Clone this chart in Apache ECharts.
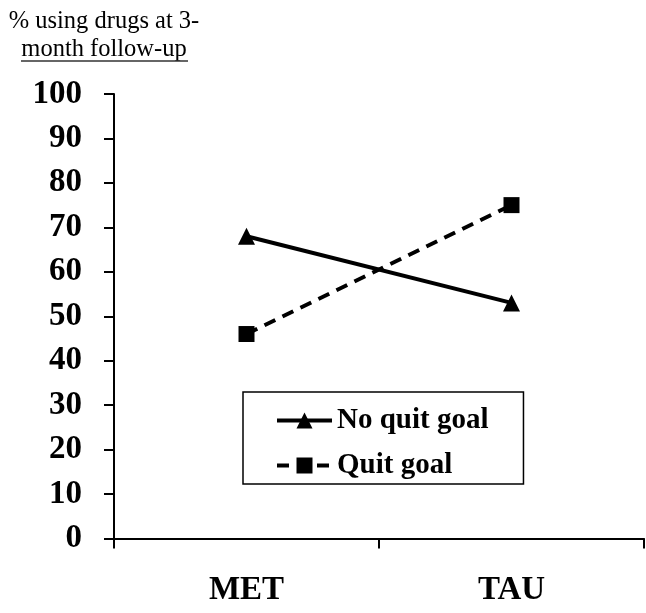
<!DOCTYPE html>
<html>
<head>
<meta charset="utf-8">
<script src="https://cdn.jsdelivr.net/npm/echarts@6/dist/echarts.min.js"></script>
<style>html,body{margin:0;padding:0;background:#fff}#c{width:646px;height:613px}</style>
</head>
<body>
<div id="c"></div>
<script>
const categories = ['MET', 'TAU'];
const noQuitGoal = [68, 53];
const quitGoal = [46, 75];
const yTicks = [0, 10, 20, 30, 40, 50, 60, 70, 80, 90, 100];
const seriesNames = ['No quit goal', 'Quit goal'];
const titleLines = ['% using drugs at 3-', 'month follow-up'];

const FONT = '"Liberation Serif", "Times New Roman", serif';
const chart = echarts.init(document.getElementById('c'), null, {renderer: 'canvas'});
chart.setOption({
  animation: false,
  backgroundColor: '#fff',
  grid: {left: 114, right: 2, top: 94, bottom: 74.5, containLabel: false},
  graphic: [
    {type: 'text', x: 104, y: 9, style: {text: titleLines[0], font: '24.5px ' + FONT, fill: '#000', textAlign: 'center'}},
    {type: 'text', x: 104, y: 37, style: {text: titleLines[1], font: '24.5px ' + FONT, fill: '#000', textAlign: 'center'}},
    {type: 'line', shape: {x1: 21, y1: 61, x2: 188, y2: 61}, style: {stroke: '#333', lineWidth: 1.5}}
  ],
  legend: {
    data: seriesNames,
    orient: 'vertical',
    left: 243,
    top: 392,
    padding: [14, 35, 4, 32],
    itemGap: 16,
    itemWidth: 55,
    itemHeight: 20,
    borderColor: '#000',
    borderWidth: 1.5,
    lineStyle: {width: 4},
    textStyle: {fontFamily: FONT, fontWeight: 'bold', fontSize: 29, color: '#000'}
  },
  xAxis: {
    type: 'category',
    data: categories,
    boundaryGap: true,
    axisLine: {show: true, lineStyle: {color: '#000', width: 2}},
    axisTick: {show: true, length: 10, lineStyle: {color: '#000', width: 2}},
    axisLabel: {margin: 35, fontFamily: FONT, fontWeight: 'bold', fontSize: 33, color: '#000'},
    splitLine: {show: false}
  },
  yAxis: {
    type: 'value',
    min: yTicks[0],
    max: yTicks[yTicks.length - 1],
    interval: yTicks[1] - yTicks[0],
    axisLine: {show: true, lineStyle: {color: '#000', width: 2}},
    axisTick: {show: true, length: 10, lineStyle: {color: '#000', width: 2}},
    axisLabel: {margin: 32, fontFamily: FONT, fontWeight: 'bold', fontSize: 33, color: '#000'},
    splitLine: {show: false}
  },
  series: [
    {
      name: seriesNames[0], type: 'line', data: noQuitGoal,
      symbol: 'triangle', symbolSize: 17,
      lineStyle: {color: '#000', width: 4, type: 'solid'},
      itemStyle: {color: '#000'}
    },
    {
      name: seriesNames[1], type: 'line', data: quitGoal,
      symbol: 'rect', symbolSize: 16,
      lineStyle: {color: '#000', width: 4, type: [12, 8]},
      itemStyle: {color: '#000'}
    }
  ]
});
</script>
</body>
</html>
